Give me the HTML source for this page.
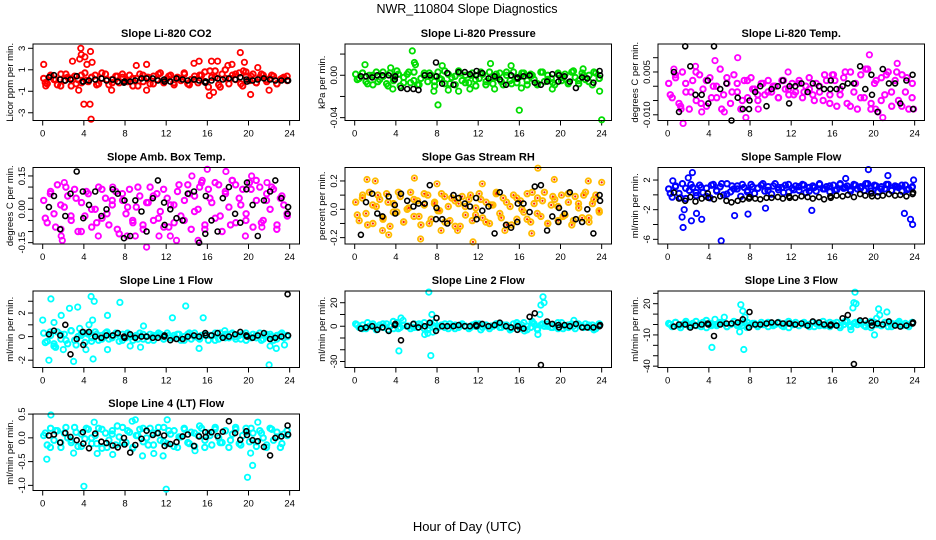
<!DOCTYPE html>
<html><head><meta charset="utf-8">
<style>
html,body{margin:0;padding:0;background:#fff;}
svg{display:block;font-family:"Liberation Sans",Arial,sans-serif;}
</style></head>
<body>
<svg id="chart" width="936" height="540" viewBox="0 0 936 540">
<text x="467" y="13" text-anchor="middle" font-size="12.5">NWR_110804  Slope Diagnostics</text>
<text x="467" y="531" text-anchor="middle" font-size="13">Hour of Day (UTC)</text>
</svg>
<script>
const xTicks = [0,4,8,12,16,20,24];
const blackHours = [0.6,1.1,1.7,2.2,2.7,3.3,3.9,3.95,4.5,5.1,5.7,6.2,6.8,7.3,7.9,7.95,8.5,9.0,9.6,10.1,10.7,11.2,11.8,11.85,12.4,13.0,13.6,14.1,14.7,15.2,15.8,15.85,16.4,17.0,17.5,18.1,18.7,19.2,19.8,19.85,20.4,20.9,21.5,22.1,22.6,23.2,23.8,23.85];
const colorHours = Array.from({length:72},(_,i)=>0.1+i/3);
const colorHours2 = Array.from({length:48},(_,i)=>0.25+i/2);

const co2Core=[0.2,-0.3,0.5,0.1,-0.4,0.6,0.0,0.3,-0.5,0.4,0.1,-0.2,0.7,-0.1,0.3,0.5,-0.3,0.2,0.6,-0.4,0.1,0.4,-0.2,0.3,0.0,0.5,-0.5,0.2,0.6,-0.1,0.3,-0.3,0.4,0.1,0.7,-0.2,0.2,0.5,-0.4,0.3,0.0,0.6,-0.3,0.1,0.4,-0.2,0.5,0.8,-0.6,0.3,0.9,-0.4,0.6,0.2,-0.3,0.5,0.1,0.7,-0.5,0.4,0.0,0.6,-0.2,0.3,0.5,-0.1,0.2,0.4,-0.3,0.1,0.3,0.0];
const co2Core2=[-0.2,0.4,0.1,-0.5,0.6,0.2,-0.3,0.5,0.0,0.3,-0.4,0.7,0.1,-0.2,0.4,0.6,-0.1,0.2,-0.5,0.5,0.3,-0.3,0.6,0.0,0.4,-0.2,0.2,0.7,-0.4,0.1,0.5,-0.1,0.9,0.3,-0.6,1.0,0.2,0.6,-0.3,0.8,0.4,-0.2,0.6,0.1,0.5,-0.3,0.2,0.4];
const co2OutHours=[0.1,0.3,2.9,3.5,3.6,3.7,3.75,4.0,4.1,4.3,4.6,4.65,4.7,4.8,6.7,9.1,10.1,10.1,14.7,15.2,16.4,16.2,16.6,17.0,18.0,18.4,19.2,19.5,19.6,20.2,20.9,22.0];
const co2OutValues=[1.5,-0.5,1.8,-0.9,2.0,3.0,2.4,-2.2,2.2,1.5,-2.2,2.7,-3.6,1.7,-0.9,1.4,1.5,-0.9,1.6,1.8,1.8,-1.4,-1.1,1.8,1.4,1.5,2.6,0.9,1.7,-1.3,1.2,-0.9];
const co2Black=[0.3,0.5,0.1,0.0,0.1,0.4,-0.1,-0.1,0.0,0.1,0.2,0.0,0.1,-0.1,-0.2,-0.1,-0.1,0.0,0.2,0.2,0.2,0.0,0.1,-0.1,-0.1,0.2,0.1,0.0,0.1,0.0,-0.2,-0.1,0.0,0.2,0.1,0.2,0.1,0.3,0.1,-0.1,0.0,0.1,0.2,0.1,0.0,0.0,0.0,0.0];

const presCore=[0.001,-0.003,0.002,-0.006,0.000,-0.009,0.003,-0.004,-0.001,-0.008,0.002,-0.005,0.004,-0.010,-0.002,0.001,-0.007,0.003,-0.009,-0.003,0.002,-0.006,0.000,-0.010,0.003,-0.004,-0.008,0.001,-0.002,-0.009,0.004,-0.005,0.000,-0.007,0.002,-0.010,-0.003,0.001,-0.006,0.003,-0.008,-0.002,0.002,-0.009,0.000,-0.005,0.003,-0.007,-0.001,0.002,-0.009,0.001,-0.004,-0.008,0.003,-0.006,0.000,-0.003,-0.009,0.002,-0.005,0.001,-0.007,0.003,-0.002,-0.008,0.002,-0.004,0.000,-0.009,0.002,-0.003];
const presCore2=[-0.004,0.002,-0.008,0.000,-0.006,0.003,-0.010,-0.002,0.001,-0.007,0.003,-0.005,-0.009,0.000,0.002,-0.006,-0.003,0.004,-0.008,-0.001,0.002,-0.007,0.000,-0.004,0.003,-0.009,-0.002,0.001,-0.006,0.003,-0.008,-0.003,0.002,-0.005,0.000,-0.009,0.003,-0.004,-0.007,0.001,-0.002,-0.008,0.004,-0.005,0.000,-0.006,0.003,-0.003];
const presOutHours=[1.0,3.5,3.7,5.6,5.8,5.9,7.7,8.1,8.5,9.1,10.1,11.2,13.2,13.6,15.2,16.0,16.2,19.2,22.2,23.8,24.0];
const presOutValues=[0.010,0.007,-0.013,0.023,0.012,0.010,-0.015,-0.028,0.009,-0.014,-0.015,-0.013,0.011,-0.013,0.009,-0.033,-0.012,-0.013,0.006,-0.015,-0.042];
const presBlack=[-0.001,-0.001,-0.002,0,0,0,-0.004,-0.001,-0.012,-0.013,-0.013,-0.014,0,0,0.012,-0.001,-0.008,0.002,-0.009,0.003,0.003,0.001,0,0.004,0.002,-0.003,-0.001,-0.004,-0.009,0,-0.002,-0.003,-0.001,0,-0.007,-0.009,-0.006,0.001,-0.006,0,-0.001,-0.006,-0.012,-0.002,-0.003,-0.007,0.004,0];

const tempCore=[0.001,-0.004,0.003,-0.006,0.005,-0.002,-0.008,0.002,-0.005,0.004,-0.001,-0.007,0.003,0.000,-0.004,0.006,-0.003,0.001,-0.006,0.004,-0.002,-0.008,0.002,-0.004,0.003,-0.001,-0.005,0.001,-0.003,0.002,-0.002,0.000,-0.004,0.002,-0.001,-0.003,0.001,-0.002,0.002,-0.004,0.000,-0.001,-0.003,0.001,-0.002,-0.005,0.002,-0.003,0.004,-0.007,-0.001,0.003,-0.006,0.005,-0.002,-0.008,0.004,-0.004,0.006,-0.006,0.001,-0.009,0.003,-0.003,0.005,-0.007,0.002,-0.005,0.004,-0.002,-0.008,0.001];
const tempCore2=[-0.003,0.004,-0.007,0.001,-0.002,0.005,-0.006,0.002,-0.004,0.000,-0.008,0.003,-0.002,0.001,-0.005,0.002,-0.001,-0.003,0.001,-0.002,0.000,-0.004,0.002,-0.001,-0.003,0.001,-0.002,0.003,-0.005,0.000,0.004,-0.006,0.002,-0.003,0.005,-0.007,0.001,-0.004,0.006,-0.008,0.002,-0.005,0.004,-0.002,0.005,-0.007,0.003,-0.004];
const tempOutHours=[0.6,1.5,1.3,2.7,3.3,4.6,5.5,6.8,7.6,8.8,11.7,16.0,19.6,20.2,20.9,22.3,23.9];
const tempOutValues=[0.006,-0.013,-0.008,0.007,-0.009,0.009,-0.009,0.010,-0.011,-0.008,0.005,0.004,0.011,-0.008,-0.011,0.008,-0.008];
const tempBlack=[0.005,-0.009,0.014,0.007,-0.003,-0.003,0.002,-0.006,0.014,-0.001,0.001,-0.012,-0.004,-0.008,-0.008,-0.005,-0.002,0.0,-0.007,-0.001,0.0,0.002,-0.006,0.0,0.0,0.001,-0.002,0.001,0.0,-0.001,-0.001,0.002,-0.001,0.0,0.001,0.001,0.007,-0.001,0.004,-0.003,-0.009,0.006,0.001,0.001,-0.006,0.002,0.004,-0.008];

const ambCore=[0.04,-0.06,0.08,-0.02,0.11,-0.09,0.01,0.06,-0.05,0.09,-0.10,0.03,-0.03,0.07,-0.08,0.00,0.10,-0.04,0.05,-0.07,0.02,0.08,-0.11,0.04,-0.02,0.09,-0.06,0.01,0.06,-0.09,0.03,0.10,-0.05,0.07,-0.01,-0.08,0.05,0.02,-0.06,0.08,-0.03,0.04,0.11,-0.09,0.06,0.00,0.12,-0.07,0.09,0.03,-0.04,0.11,-0.10,0.07,0.01,0.13,-0.06,0.05,0.09,-0.02,0.12,-0.08,0.04,0.10,-0.05,0.07,0.00,0.09,-0.07,0.05,0.02,-0.03];
const ambCore2=[-0.04,0.07,-0.08,0.02,0.10,-0.03,0.05,-0.10,0.08,0.00,-0.06,0.09,-0.02,0.04,-0.09,0.07,0.01,-0.05,0.10,-0.07,0.03,0.06,-0.04,0.09,-0.08,0.02,0.11,-0.05,0.07,-0.01,0.10,-0.09,0.05,0.12,-0.03,0.08,-0.07,0.11,0.02,-0.05,0.09,0.13,-0.06,0.04,0.10,-0.09,0.06,-0.02];
const ambOutHours=[1.8,1.9,2.1,5.4,6.8,8.2,9.0,10.1,11.3,12.4,13.0,14.5,15.1,15.5,16.0,17.8,18.4,19.7,20.3,21.3,21.8];
const ambOutValues=[-0.12,-0.14,0.12,-0.12,0.10,-0.12,-0.12,-0.17,-0.12,-0.12,-0.14,0.15,-0.14,0.13,0.18,0.17,0.13,-0.12,0.15,-0.08,0.12];
const ambBlack=[0.01,0.06,-0.09,-0.03,0.07,0.17,0.08,-0.04,0.02,0.08,-0.03,0.0,0.09,0.07,-0.13,0.04,-0.12,0.04,-0.01,-0.1,0.05,0.13,0.03,-0.07,0.0,-0.04,-0.05,0.07,0.08,-0.15,-0.11,0.06,-0.05,-0.1,0.05,0.10,-0.02,-0.06,0.09,0.12,0.02,-0.12,0.04,0.08,0.13,0.05,-0.02,0.01];

const rhCore=[0.05,-0.08,0.10,-0.03,0.12,-0.10,0.02,0.07,-0.06,0.11,-0.12,0.04,-0.02,0.09,-0.09,0.00,0.12,-0.05,0.06,-0.11,0.03,0.10,-0.07,0.05,-0.01,0.11,-0.09,0.02,0.08,-0.12,0.04,0.09,-0.04,0.07,-0.08,0.01,0.11,-0.06,0.05,-0.10,0.03,0.12,-0.03,0.08,-0.11,0.02,0.10,-0.07,0.06,-0.02,0.11,-0.09,0.04,0.08,-0.05,0.12,-0.10,0.03,0.07,-0.08,0.10,-0.04,0.05,-0.11,0.09,0.01,-0.06,0.12,-0.09,0.04,0.10,-0.02];
const rhCore2=[-0.04,0.08,-0.11,0.03,0.10,-0.07,0.05,-0.02,0.12,-0.09,0.01,0.07,-0.05,0.11,-0.10,0.04,-0.01,0.09,-0.08,0.06,-0.12,0.02,0.10,-0.04,0.07,-0.09,0.03,0.11,-0.06,0.05,-0.11,0.08,0.00,-0.07,0.12,-0.03,0.06,-0.10,0.09,0.02,-0.05,0.11,-0.08,0.04,0.10,-0.06,0.07,-0.01];
const rhOutHours=[1.2,2.0,2.7,3.3,5.8,6.4,8.0,8.4,10.0,11.5,12.4,14.6,17.2,17.8,19.4,22.7,24.0];
const rhOutValues=[0.21,0.20,-0.15,-0.18,0.22,-0.21,0.18,-0.15,-0.15,-0.23,0.18,-0.15,-0.17,0.29,0.21,0.20,0.19];
const rhBlack=[-0.18,0.05,0.11,-0.03,-0.05,0.09,0.03,-0.03,0.11,0.06,0.02,0.04,0.04,0.17,-0.07,0.01,-0.07,-0.1,0.1,0.08,0.04,0.02,0.08,-0.07,-0.01,0.02,-0.17,0.12,-0.11,-0.13,-0.09,0.04,0.04,-0.02,0.16,0.17,-0.15,-0.05,-0.09,0.01,-0.03,0.12,-0.07,-0.09,0.0,-0.17,0.10,0.06];

const flowCore=[0.8,-0.3,1.2,0.2,1.5,-0.5,0.6,1.0,-0.1,1.3,0.3,0.9,-0.4,1.4,0.5,1.1,0.0,1.5,0.4,0.8,1.2,-0.2,1.0,0.6,1.4,0.2,0.9,1.3,0.5,1.1,0.1,1.5,0.7,1.0,1.3,0.4,0.9,1.2,0.6,1.4,0.3,1.0,1.2,0.5,1.4,0.8,1.1,0.4,1.3,0.7,1.5,0.9,1.2,0.5,1.4,0.8,1.1,0.6,1.5,0.9,1.3,0.4,1.1,0.8,1.4,0.6,1.2,1.0,0.5,1.3,0.8,1.1];
const flowCore2=[0.2,1.1,-0.4,0.9,1.4,0.3,1.0,-0.2,1.3,0.6,1.5,0.1,1.2,0.8,1.4,0.4,1.1,0.9,1.5,0.6,1.2,1.0,0.3,1.4,0.7,1.1,1.3,0.5,1.0,1.5,0.8,1.2,0.6,1.4,1.0,0.7,1.3,0.9,1.5,0.5,1.2,0.8,1.4,0.6,1.1,1.3,0.7,1.0];
const flowOutHours=[0.5,1.4,1.5,1.6,2.3,2.8,3.3,2.0,2.4,5.2,6.5,7.8,9.5,14.0,17.3,19.5,21.4,23.0,23.6,23.8,23.9];
const flowOutValues=[1.9,-3.0,-4.4,-2.0,-3.5,-2.5,-3.3,2.3,3.0,-6.2,-2.8,-2.6,-1.8,-2.1,2.2,3.4,2.6,-2.5,-3.3,-4.0,2.0];
const flowBlack=[0.3,-0.5,-0.8,-0.3,-0.9,-0.5,0.2,-0.4,-0.6,-0.2,-0.8,-1.0,-0.8,-0.6,-0.5,-0.3,-0.5,-0.6,-0.4,-0.4,-0.3,-0.5,-0.2,-0.4,-0.4,-0.2,-0.3,-0.5,-0.3,-0.6,-0.2,-0.4,-0.1,-0.2,0.0,-0.3,0.1,-0.1,0.2,-0.2,-0.2,-0.1,0.1,-0.1,0.0,-0.2,0.1,0.3];

const l1Core=[0.3,-0.4,0.1,-0.8,0.4,-0.2,0.2,-0.6,0.5,-0.3,0.0,0.3,-0.5,0.2,-0.1,0.4,-0.3,0.1,0.3,-0.2,0.0,0.3,-0.4,0.2,-0.1,0.2,-0.3,0.1,0.3,-0.2,0.0,0.2,-0.3,0.1,0.2,-0.2,0.3,-0.1,0.1,0.2,-0.3,0.0,0.2,-0.2,0.3,-0.1,0.1,0.2,-0.3,0.1,0.3,-0.2,0.0,0.2,-0.1,0.3,-0.2,0.1,0.2,-0.3,0.0,0.2,-0.1,0.3,-0.2,0.1,0.2,-0.3,0.1,0.2,-0.1,0.0];
const l1Core2=[-0.5,0.4,-0.9,0.2,-0.3,0.5,-0.7,0.1,0.3,-0.4,0.2,-0.2,0.4,-0.1,0.2,-0.3,0.3,0.0,-0.2,0.2,-0.3,0.1,0.3,-0.2,0.1,-0.1,0.2,-0.3,0.3,0.0,-0.2,0.2,0.1,-0.3,0.3,-0.1,0.2,0.0,-0.2,0.3,-0.1,0.1,-0.3,0.2,0.0,-0.2,0.3,0.1];
const l1OutHours=[0.0,0.6,0.8,1.1,1.1,1.8,2.0,2.6,3.0,3.4,3.6,4.2,4.5,4.7,4.85,5.0,4.9,6.3,6.3,7.5,8.5,9.5,9.8,12.6,13.9,15.2,15.6,17.7,22.0,22.1,22.7,23.5];
const l1OutValues=[1.4,-2.0,3.2,1.2,-0.6,1.8,-1.1,2.4,-2.1,2.5,0.7,-1.1,1.0,3.4,1.4,3.0,-1.9,1.8,-1.1,2.9,-0.8,-0.9,0.9,1.6,2.6,-1.0,1.6,0.5,-2.4,-0.8,-1.0,-0.7];
const l1Black=[0.2,0.5,0.1,1.0,-1.5,-0.2,0.4,-0.7,0.4,0.0,-0.1,0.1,0.1,0.3,0.0,-0.1,0.2,-0.1,0.0,0.0,-0.1,-0.1,0.0,0.1,-0.3,-0.2,-0.2,0.0,0.1,0.0,0.3,0.1,0.1,0.3,-0.1,0.0,0.2,0.4,0.1,0.0,-0.1,0.1,0.3,-0.2,-0.1,0.0,3.6,0.1];

const l2Core=[2,-1,1,-2,0,2,-3,1,-1,2,0,-2,3,-1,1,0,-2,2,-1,1,3,-3,2,0,-1,1,2,-2,0,1,-1,2,0,-2,1,0,2,-1,1,-2,0,2,-1,1,0,-3,2,1,-2,3,0,-1,2,-3,1,0,2,-1,1,-2,3,0,-1,2,-2,1,0,2,-1,1,-2,2];
const l2Core2=[1,-2,3,0,-1,2,-3,4,-2,1,0,-1,2,-2,1,3,0,-1,2,-2,1,0,-1,2,-3,1,0,2,-1,1,-2,3,1,-3,4,-2,2,0,-1,3,-2,1,0,2,-1,1,-3,2];
const l2OutHours=[4.3,4.5,4.7,6.8,7.1,7.2,7.4,7.5,7.6,14.0,16.5,17.3,17.8,18.0,18.1,18.3,18.4,21.3];
const l2OutValues=[-21,7,5,-7,-6,29,-25,10,-5,2,-4,3,-7,10,18,25,20,5];
const l2Black=[-2,-1,0,-3,-1,-4,1,2,-12,0,2,-1,0,3,-4,7,0,0,0,1,0,0,1,0,2,0,1,3,0,-1,-3,0,-2,8,11,-33,4,2,1,-1,1,0,2,-1,-1,-1,0,1];

const l3Core=[1,-2,2,-1,0,3,-2,1,-1,0,2,-3,1,0,-1,2,1,-2,0,3,-1,1,2,-2,0,1,-1,2,0,-2,1,0,2,-1,1,-3,0,2,-1,1,0,-2,2,1,-1,3,0,-2,1,2,-1,0,3,-2,1,0,2,-1,1,-3,2,0,-1,2,-2,1,0,2,-1,1,-2,2];
const l3Core2=[0,2,-3,1,-1,3,-2,4,-1,0,2,-2,1,0,-1,2,1,-2,0,2,-1,1,-2,3,0,-1,2,0,-2,1,-1,2,0,-3,3,-1,2,1,-2,3,0,-1,2,-2,1,0,-1,2];
const l3OutHours=[4.3,4.6,5.5,7.0,7.1,7.3,7.4,7.5,7.7,18.0,18.1,18.2,18.3,17.8,20.1,20.3,20.5,20.6,21.3,22.5];
const l3OutValues=[-22,5,7,-7,19,13,-24,7,-3,16,21,31,20,-5,-10,6,15,9,12,3];
const l3Black=[-2,0,0,-3,-1,0,1,0,-11,0,1,1,2,5,-3,12,0,0,1,2,2,1,1,1,0,1,-1,3,2,0,-1,0,-1,6,9,-38,4,4,2,-1,1,0,3,-1,-2,-1,1,2];

const l4Core=[0.05,-0.15,0.2,-0.05,0.15,-0.2,0.1,0.0,-0.1,0.22,-0.18,0.08,-0.02,0.18,-0.12,0.05,0.2,-0.22,0.1,-0.05,0.15,-0.15,0.02,0.22,-0.1,0.12,-0.2,0.05,0.18,-0.08,0.0,0.2,-0.15,0.1,-0.05,0.22,-0.12,0.08,0.15,-0.2,0.02,0.18,-0.1,0.12,-0.18,0.05,0.2,-0.05,0.1,-0.15,0.22,0.0,-0.1,0.15,-0.2,0.08,0.18,-0.12,0.05,0.2,-0.08,0.1,-0.18,0.15,0.0,-0.15,0.2,-0.05,0.12,-0.2,0.08,0.05];
const l4Core2=[0.1,-0.2,0.15,-0.1,0.22,-0.05,0.12,-0.18,0.2,0.0,-0.12,0.18,-0.2,0.08,0.25,-0.1,0.15,-0.22,0.05,0.2,-0.15,0.1,0.22,-0.08,0.15,-0.18,0.02,0.2,-0.12,0.1,0.25,-0.2,0.05,0.18,-0.1,0.15,-0.05,0.22,-0.15,0.12,0.2,-0.08,0.1,-0.2,0.18,0.02,-0.12,0.15];
const l4OutHours=[0.4,0.8,3.0,4.0,5.0,5.3,6.8,8.7,9.0,9.7,10.8,11.7,12.0,12.1,14.8,19.9,20.4,20.2,20.9];
const l4OutValues=[-0.45,0.48,-0.32,-1.02,0.33,-0.33,-0.35,0.35,0.38,-0.38,-0.33,-0.38,-1.08,0.38,-0.27,-0.83,-0.58,-0.32,0.33];
const l4Black=[0.05,0.07,-0.1,0.1,0.02,-0.05,0.12,-0.12,-0.22,0.09,-0.08,-0.11,-0.16,-0.2,0.0,-0.14,-0.31,-0.15,-0.02,0.15,0.06,0.1,0.05,-0.17,-0.13,-0.09,0.03,0.07,-0.17,0.03,0.12,0.02,0.12,0.04,0.13,0.35,0.1,-0.04,0.14,0.06,-0.05,-0.07,-0.19,-0.37,0.0,0.03,0.26,0.07];

const colLeft=[33,345,658];
const rowTop=[44,167.5,291,414];
const BOXW=266.5, BOXH=76.5;
const NS="http://www.w3.org/2000/svg";
const svg=document.getElementById('chart');

const panels=[
 {key:'co2',title:'Slope Li-820 CO2',ylab:'Licor ppm per min.',col:0,row:0,yTop:3.4,yBot:-3.72,ticks:[3,1,-1,-3],labels:['3','1','-1','-3'],color:'#ff0000',core:co2Core,core2:co2Core2,oh:co2OutHours,ov:co2OutValues,black:co2Black},
 {key:'pressure',title:'Slope Li-820 Pressure',ylab:'kPa per min.',col:1,row:0,yTop:0.0295,yBot:-0.0427,ticks:[0.02,0,-0.02,-0.04],labels:['','0.00','','-0.04'],color:'#00dd00',core:presCore,core2:presCore2,oh:presOutHours,ov:presOutValues,black:presBlack},
 {key:'temp',title:'Slope Li-820 Temp.',ylab:'degrees C per min.',col:2,row:0,yTop:0.0148,yBot:-0.012,ticks:[0.01,0.005,0,-0.005,-0.01],labels:['','0.005','','','-0.010'],color:'#ff00ff',core:tempCore,core2:tempCore2,oh:tempOutHours,ov:tempOutValues,black:tempBlack},
 {key:'amb',title:'Slope Amb. Box Temp.',ylab:'degrees C per min.',col:0,row:1,yTop:0.188,yBot:-0.156,ticks:[0.15,0.1,0.05,0,-0.05,-0.1,-0.15],labels:['0.15','','','0.00','','','-0.15'],color:'#ff00ff',core:ambCore,core2:ambCore2,oh:ambOutHours,ov:ambOutValues,black:ambBlack},
 {key:'rh',title:'Slope Gas Stream RH',ylab:'percent per min.',col:1,row:1,yTop:0.295,yBot:-0.245,ticks:[0.2,0.1,0,-0.1,-0.2],labels:['0.2','','0.0','','-0.2'],color:'#ffbb00',rh:true,core:rhCore,core2:rhCore2,oh:rhOutHours,ov:rhOutValues,black:rhBlack},
 {key:'sample-flow',title:'Slope Sample Flow',ylab:'ml/min per min.',col:2,row:1,yTop:3.69,yBot:-6.63,ticks:[2,0,-2,-4,-6],labels:['2','','-2','','-6'],color:'#0000ff',core:flowCore,core2:flowCore2,oh:flowOutHours,ov:flowOutValues,black:flowBlack},
 {key:'line1',title:'Slope Line 1 Flow',ylab:'ml/min per min.',col:0,row:2,yTop:3.87,yBot:-2.62,ticks:[3,2,1,0,-1,-2],labels:['','2','','0','','-2'],color:'#00ffff',core:l1Core,core2:l1Core2,oh:l1OutHours,ov:l1OutValues,black:l1Black},
 {key:'line2',title:'Slope Line 2 Flow',ylab:'ml/min per min.',col:1,row:2,yTop:29.97,yBot:-35.1,ticks:[20,10,0,-10,-20,-30],labels:['20','','0','','','-30'],color:'#00ffff',core:l2Core,core2:l2Core2,oh:l2OutHours,ov:l2OutValues,black:l2Black},
 {key:'line3',title:'Slope Line 3 Flow',ylab:'ml/min per min.',col:2,row:2,yTop:32.2,yBot:-41.3,ticks:[30,20,10,0,-10,-20,-30,-40],labels:['','20','','','-10','','','-40'],color:'#00ffff',core:l3Core,core2:l3Core2,oh:l3OutHours,ov:l3OutValues,black:l3Black},
 {key:'line4',title:'Slope Line 4 (LT) Flow',ylab:'ml/min per min.',col:0,row:3,yTop:0.502,yBot:-1.108,ticks:[0.5,0,-0.5,-1],labels:['0.5','0.0','-0.5','-1.0'],color:'#00ffff',core:l4Core,core2:l4Core2,oh:l4OutHours,ov:l4OutValues,black:l4Black}
];

function mk(tag,attrs,parent){const e=document.createElementNS(NS,tag);for(const k in attrs)e.setAttribute(k,attrs[k]);(parent||svg).appendChild(e);return e;}

panels.forEach(p=>{
  const L=colLeft[p.col], T=rowTop[p.row];
  const g=mk('g',{});
  
  
  const xs=h=>L+9.7+h*10.29;
  const ys=v=>T+(p.yTop-v)/(p.yTop-p.yBot)*BOXH;
  const t=mk('text',{x:L+BOXW/2,y:T-7,'text-anchor':'middle','font-size':'11','font-weight':'bold'},g);
  t.textContent=p.title;
  
  
  const yl=mk('text',{x:0,y:0,'text-anchor':'middle','font-size':'9.5',transform:`translate(${L-20},${T+BOXH/2}) rotate(-90)`},g);
  yl.textContent=p.ylab;
  
  
  xTicks.forEach(v=>{
    const x=xs(v);
    const tk=mk('line',{x1:x,x2:x,y1:T+BOXH,y2:T+BOXH+5,stroke:'#000','stroke-width':1},g);
    
    
    const lb=mk('text',{x:x,y:T+BOXH+16,'text-anchor':'middle','font-size':'9.5'},g);
    lb.textContent=v;
    
    
  });
  p.ticks.forEach((v,i)=>{
    const y=ys(v);
    const tk=mk('line',{x1:L-5,x2:L,y1:y,y2:y,stroke:'#000','stroke-width':1},g);
    
    
    if(p.labels[i]){
      const lb=mk('text',{x:0,y:0,'text-anchor':'middle','font-size':'9.5',transform:`translate(${L-8},${y}) rotate(-90)`},g);
      lb.textContent=p.labels[i];
      
      
    }
  });
  const pts=mk('g',{fill:'none'},g);
  
  
  const drawC=(h,v,col,sw)=>{
    const c=mk('circle',{cx:xs(h).toFixed(1),cy:ys(v).toFixed(1),r:2.7,stroke:col,'stroke-width':sw},pts);
    
    
    if(p.rh){
      const d=mk('circle',{cx:xs(h).toFixed(1),cy:ys(v).toFixed(1),r:1.1,fill:'#ff2200'},pts);
      
      
    }
  };
  p.core.forEach((v,i)=>drawC(colorHours[i],v,p.color,2));
  p.core2.forEach((v,i)=>drawC(colorHours2[i],v,p.color,2));
  p.oh.forEach((h,i)=>drawC(h,p.ov[i],p.color,1.8));
  const bg=mk('g',{fill:'none'},g);
  
  
  p.black.forEach((v,i)=>{
    if(i>=blackHours.length)return;
    const c=mk('circle',{cx:xs(blackHours[i]).toFixed(1),cy:ys(v).toFixed(1),r:2.5,stroke:'#000','stroke-width':1.6},bg);
    
    
  });
  const box=mk('rect',{x:L,y:T,width:BOXW,height:BOXH,fill:'none',stroke:'#000','stroke-width':1},g);
  
  
});
</script>
</body></html>
